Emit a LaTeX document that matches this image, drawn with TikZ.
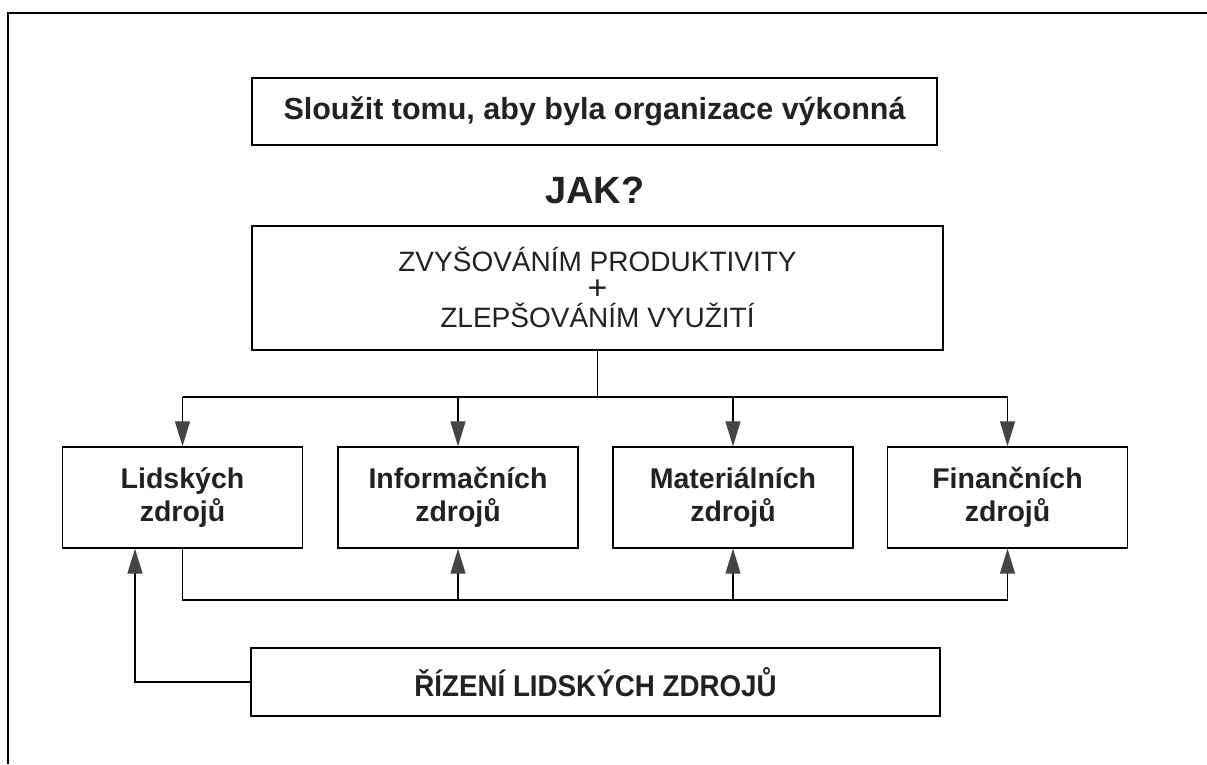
\documentclass[tikz,border=0pt]{standalone}
\usepackage{fontspec}
\setmainfont{Liberation Sans}
\newfontfamily\narrowfont[FakeStretch=0.925]{Liberation Sans}
\usetikzlibrary{arrows.meta}
\definecolor{ink}{HTML}{222222}
\definecolor{tipgray}{HTML}{454545}
\tikzset{
  box/.style={draw=black, line width=1.3pt, inner sep=0pt, align=center, text=ink},
  res/.style={box, minimum width=240pt, minimum height=101pt,
    font=\fontsize{28.5}{33}\selectfont\bfseries},
  link/.style={draw=black, line width=1.2pt},
  arr/.style={link, -{Triangle[length=25pt, width=15pt, color=tipgray]}},
}
\begin{document}
\begin{tikzpicture}[x=1pt, y=-1pt]
  \useasboundingbox (0,0) rectangle (1207,764);
  % page frame (top and left edges)
  \draw[line width=2.5pt] (8,764) -- (8,13) -- (1207,13);

  % goal
  \node[box, minimum width=685pt, minimum height=67pt,
        font=\fontsize{30.5}{34}\selectfont\bfseries] (goal) at (594.5,111.5)
        {Sloužit tomu, aby byla organizace výkonná};
  \node[text=ink, font=\fontsize{38}{40}\selectfont\bfseries] (how) at (595,190) {JAK?};

  % means
  \node[box, minimum width=691pt, minimum height=124pt] (means) at (597.5,288) {};
  \node[text=ink, inner sep=0pt, align=center, font=\fontsize{28}{28}\selectfont]
        (meanstext) at (597.5,287)
        {ZVYŠOVÁNÍM PRODUKTIVITY\\{\fontsize{34}{28}\selectfont +}\\ZLEPŠOVÁNÍM VYUŽITÍ};

  % resources
  \node[res] (hum) at (182.5,497.5) {Lidských\\zdrojů};
  \node[res] (inf) at (458,497.5) {Informačních\\zdrojů};
  \node[res] (mat) at (733,497.5) {Materiálních\\zdrojů};
  \node[res] (fin) at (1007.5,497.5) {Finančních\\zdrojů};

  % human resource management
  \node[box, minimum width=689pt, minimum height=68pt,
        font=\narrowfont\fontsize{30}{32}\selectfont\bfseries] (hrm) at (595.5,682)
        {ŘÍZENÍ LIDSKÝCH ZDROJŮ};

  % distribution bus
  \coordinate (top) at (0,397);
  \coordinate (bot) at (0,600);
  \coordinate (fb) at (135,0);
  \draw[link] (means.south) -- (means.south |- top);
  \draw[link] (hum.north |- top) -- (fin.north |- top);
  \foreach \n in {hum,inf,mat,fin}
    \draw[arr] (\n.north |- top) -- (\n.north);

  % feedback bus
  \draw[link] (hum.south) -- (hum.south |- bot) -- (fin.south |- bot);
  \foreach \n in {inf,mat,fin}
    \draw[arr] (\n.south |- bot) -- (\n.south);
  \draw[arr] (hrm.west) -| (fb |- hum.south);
\end{tikzpicture}
\end{document}
